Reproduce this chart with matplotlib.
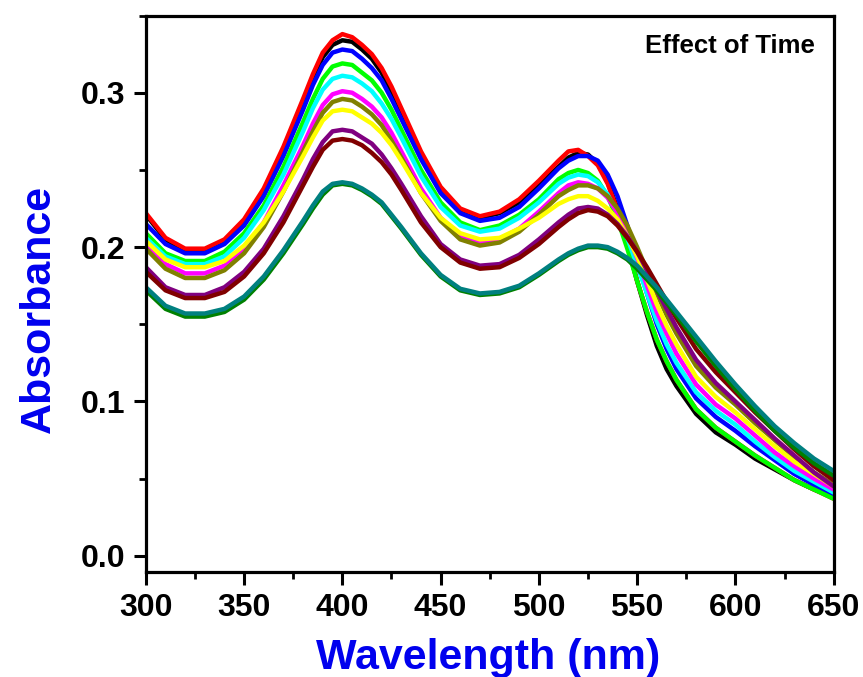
import matplotlib
matplotlib.use("Agg")
import matplotlib.pyplot as plt
from matplotlib.ticker import MultipleLocator

plt.rcParams['font.family'] = ['Liberation Sans', 'DejaVu Sans']
plt.rcParams['font.weight'] = 'bold'

# wavelength grid (nm), denser around the peaks and the steep fall
wl = [300, 310, 320, 330, 340, 350, 360, 370, 380,
      385, 390, 395, 400, 405, 410, 415, 420, 425, 430,
      440, 450, 460, 470, 480, 490, 500, 510,
      515, 520, 525, 530, 535, 540, 545, 550, 555, 560, 565, 570,
      580, 590, 600, 610, 620, 630, 640, 650]

# absorbance
black = [0.221, 0.205, 0.198, 0.198, 0.204, 0.217, 0.236, 0.263, 0.294,
         0.310, 0.323, 0.331, 0.334, 0.333, 0.328, 0.322, 0.313, 0.301, 0.288,
         0.260, 0.238, 0.224, 0.219, 0.222, 0.229, 0.241, 0.252,
         0.258, 0.261, 0.260, 0.254, 0.242, 0.225, 0.202, 0.178, 0.156, 0.136, 0.121, 0.110,
         0.092, 0.080, 0.072, 0.063, 0.056, 0.049, 0.043, 0.038]
red = [0.222, 0.206, 0.199, 0.199, 0.205, 0.218, 0.238, 0.265, 0.296,
       0.312, 0.326, 0.334, 0.338, 0.336, 0.331, 0.325, 0.316, 0.304, 0.290,
       0.262, 0.239, 0.225, 0.220, 0.223, 0.231, 0.243, 0.256,
       0.262, 0.263, 0.259, 0.253, 0.241, 0.224, 0.202, 0.178, 0.158, 0.140, 0.126, 0.114,
       0.095, 0.083, 0.074, 0.065, 0.057, 0.049, 0.043, 0.037]
blue = [0.215, 0.202, 0.196, 0.196, 0.202, 0.214, 0.233, 0.259, 0.289,
        0.305, 0.318, 0.326, 0.328, 0.327, 0.322, 0.316, 0.308, 0.296, 0.283,
        0.257, 0.235, 0.222, 0.217, 0.219, 0.226, 0.238, 0.251,
        0.256, 0.259, 0.259, 0.256, 0.247, 0.233, 0.214, 0.192, 0.170, 0.150, 0.134, 0.121,
        0.102, 0.090, 0.081, 0.071, 0.062, 0.053, 0.046, 0.040]
lime = [0.209, 0.196, 0.191, 0.191, 0.197, 0.209, 0.227, 0.252, 0.281,
        0.296, 0.309, 0.317, 0.319, 0.318, 0.313, 0.308, 0.300, 0.289, 0.276,
        0.250, 0.229, 0.216, 0.211, 0.214, 0.221, 0.231, 0.244,
        0.248, 0.250, 0.248, 0.243, 0.233, 0.218, 0.199, 0.178, 0.158, 0.140, 0.126, 0.114,
        0.095, 0.083, 0.074, 0.065, 0.057, 0.049, 0.043, 0.037]
cyan = [0.206, 0.194, 0.189, 0.189, 0.194, 0.206, 0.224, 0.247, 0.275,
        0.290, 0.302, 0.309, 0.311, 0.310, 0.306, 0.301, 0.293, 0.283, 0.271,
        0.246, 0.226, 0.214, 0.210, 0.212, 0.219, 0.229, 0.241,
        0.245, 0.247, 0.246, 0.242, 0.234, 0.222, 0.206, 0.188, 0.170, 0.152, 0.137, 0.125,
        0.106, 0.094, 0.085, 0.074, 0.064, 0.055, 0.048, 0.041]
magenta = [0.202, 0.189, 0.183, 0.183, 0.188, 0.199, 0.216, 0.240, 0.266,
           0.280, 0.292, 0.299, 0.301, 0.300, 0.296, 0.291, 0.284, 0.274, 0.262,
           0.238, 0.219, 0.207, 0.203, 0.205, 0.212, 0.223, 0.235,
           0.240, 0.242, 0.241, 0.238, 0.232, 0.222, 0.209, 0.193, 0.175, 0.158, 0.144, 0.131,
           0.111, 0.098, 0.089, 0.078, 0.067, 0.058, 0.050, 0.043]
olive = [0.199, 0.186, 0.180, 0.180, 0.185, 0.196, 0.213, 0.236, 0.262,
         0.275, 0.287, 0.294, 0.296, 0.295, 0.291, 0.286, 0.279, 0.269, 0.258,
         0.235, 0.217, 0.205, 0.201, 0.203, 0.210, 0.221, 0.233,
         0.237, 0.240, 0.240, 0.238, 0.233, 0.225, 0.214, 0.200, 0.185, 0.170, 0.156, 0.144,
         0.123, 0.109, 0.098, 0.086, 0.075, 0.064, 0.054, 0.046]
yellow = [0.204, 0.192, 0.187, 0.187, 0.191, 0.201, 0.216, 0.236, 0.259,
          0.271, 0.282, 0.288, 0.289, 0.288, 0.284, 0.280, 0.274, 0.266, 0.256,
          0.235, 0.219, 0.209, 0.205, 0.206, 0.212, 0.219, 0.228,
          0.231, 0.233, 0.233, 0.230, 0.225, 0.218, 0.207, 0.194, 0.179, 0.163, 0.149, 0.137,
          0.116, 0.103, 0.093, 0.082, 0.071, 0.061, 0.053, 0.045]
purple = [0.187, 0.174, 0.169, 0.169, 0.174, 0.184, 0.199, 0.220, 0.244,
          0.257, 0.268, 0.275, 0.276, 0.275, 0.271, 0.267, 0.260, 0.251, 0.241,
          0.220, 0.202, 0.192, 0.188, 0.189, 0.195, 0.205, 0.216,
          0.221, 0.225, 0.226, 0.225, 0.221, 0.215, 0.207, 0.197, 0.185, 0.172, 0.160, 0.148,
          0.127, 0.112, 0.100, 0.088, 0.076, 0.065, 0.054, 0.045]
maroon = [0.184, 0.172, 0.167, 0.167, 0.171, 0.181, 0.196, 0.216, 0.240,
          0.252, 0.263, 0.269, 0.270, 0.269, 0.266, 0.261, 0.255, 0.247, 0.237,
          0.216, 0.200, 0.190, 0.186, 0.187, 0.193, 0.202, 0.213,
          0.218, 0.222, 0.224, 0.223, 0.220, 0.214, 0.206, 0.197, 0.187, 0.176, 0.165, 0.154,
          0.134, 0.119, 0.106, 0.093, 0.081, 0.069, 0.058, 0.049]
darkgreen = [0.172, 0.160, 0.155, 0.155, 0.158, 0.166, 0.179, 0.196, 0.215,
             0.225, 0.234, 0.240, 0.241, 0.240, 0.237, 0.233, 0.228, 0.220, 0.212,
             0.195, 0.181, 0.172, 0.169, 0.170, 0.174, 0.182, 0.191,
             0.195, 0.198, 0.200, 0.200, 0.199, 0.196, 0.192, 0.186, 0.179, 0.172, 0.164, 0.156,
             0.139, 0.123, 0.108, 0.094, 0.081, 0.070, 0.060, 0.052]
teal = [0.174, 0.162, 0.157, 0.157, 0.160, 0.168, 0.181, 0.198, 0.217,
        0.227, 0.236, 0.241, 0.242, 0.241, 0.238, 0.234, 0.229, 0.221, 0.213,
        0.196, 0.182, 0.173, 0.170, 0.171, 0.175, 0.183, 0.192,
        0.196, 0.199, 0.201, 0.201, 0.200, 0.197, 0.193, 0.188, 0.181, 0.174, 0.166, 0.158,
        0.142, 0.126, 0.111, 0.097, 0.084, 0.073, 0.063, 0.055]

series = [black, red, blue, lime, cyan, magenta, olive, yellow,
          purple, maroon, darkgreen, teal]
colors = ["#000000", "#ff0000", "#0000ff", "#00ff00", "#00ffff", "#ff00ff",
          "#808000", "#ffff00", "#800080", "#800000", "#008000", "#008080"]

fig = plt.figure(figsize=(8.63, 6.77), dpi=100)
ax = fig.add_axes([0.169, 0.155, 0.797, 0.822])

for s, c in zip(series, colors):
    ax.plot(wl, s, color=c, lw=3.2, solid_joinstyle='round', solid_capstyle='round')

ax.set_xlim(300, 650)
ax.set_ylim(-0.0105, 0.35)
ax.xaxis.set_major_locator(MultipleLocator(50))
ax.xaxis.set_minor_locator(MultipleLocator(25))
ax.yaxis.set_major_locator(MultipleLocator(0.1))
ax.yaxis.set_minor_locator(MultipleLocator(0.05))
ax.yaxis.set_major_formatter(plt.FormatStrFormatter('%.1f'))

for sp in ax.spines.values():
    sp.set_linewidth(2.3)
ax.tick_params(which='major', length=9, width=2.2, labelsize=23, pad=6)
ax.tick_params(which='minor', length=5, width=2.0)
ax.tick_params(axis='x', which='both', top=False)
ax.tick_params(axis='y', which='both', right=False)
for lab in ax.get_xticklabels() + ax.get_yticklabels():
    lab.set_fontweight('bold')

ax.set_xlabel('Wavelength (nm)', fontsize=31, fontweight='bold', color='#0000ee', va='center')
ax.xaxis.set_label_coords(0.497, -0.154)
ax.set_ylabel('Absorbance', fontsize=31, fontweight='bold', color='#0000ee', va='center')
ax.yaxis.set_label_coords(-0.155, 0.4735)

ax.text(0.9724, 0.945, 'Effect of Time', transform=ax.transAxes, ha='right', va='center',
        fontsize=18.5, fontweight='bold')

fig.savefig('out.png', dpi=100)
